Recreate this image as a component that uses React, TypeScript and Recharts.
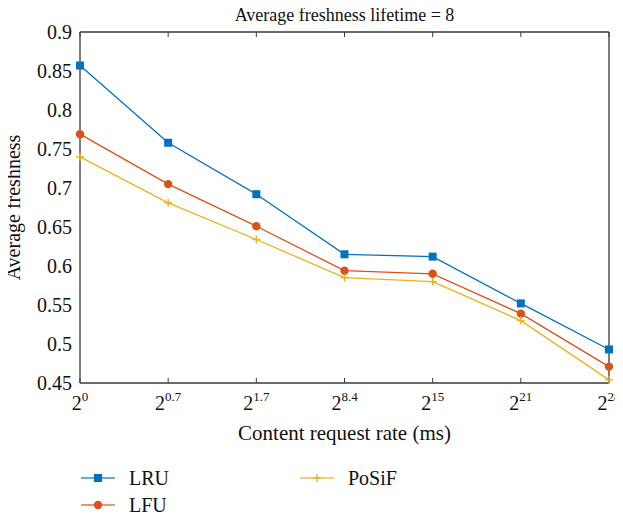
import { LineChart, Line, XAxis, YAxis } from 'recharts'

const exponents = ['0', '0.7', '1.7', '8.4', '15', '21', '28']
const lru = [0.857, 0.758, 0.692, 0.615, 0.612, 0.552, 0.493]
const lfu = [0.769, 0.705, 0.651, 0.594, 0.59, 0.539, 0.471]
const posif = [0.74, 0.681, 0.634, 0.585, 0.58, 0.53, 0.454]
const yTicks = [0.45, 0.5, 0.55, 0.6, 0.65, 0.7, 0.75, 0.8, 0.85, 0.9]
const xTicks = exponents.map((_, i) => i)

const series = [
  { key: 'LRU', color: '#0072BD', marker: 'square' },
  { key: 'LFU', color: '#D95319', marker: 'circle' },
  { key: 'PoSiF', color: '#EDB120', marker: 'plus' }
]

const data = exponents.map((e, i) => ({
  i,
  exp: e,
  LRU: lru[i],
  LFU: lfu[i],
  PoSiF: posif[i]
}))

const font = 'Liberation Serif'
const axisColor = '#3a3a3a'

const Marker = ({ type, cx, cy, color }: { type: string; cx: number; cy: number; color: string }) => {
  if (type === 'square')
    return <rect x={cx - 4} y={cy - 4} width={8} height={8} fill={color} />
  if (type === 'circle') return <circle cx={cx} cy={cy} r={4.2} fill={color} />
  return (
    <g stroke={color} strokeWidth={1.4}>
      <line x1={cx - 4} x2={cx + 4} y1={cy} y2={cy} />
      <line x1={cx} x2={cx} y1={cy - 4} y2={cy + 4} />
    </g>
  )
}

const XTick = ({ x, y, payload }: any) => (
  <text x={x} y={y + 19} textAnchor="middle" fontFamily={font} fontSize={20} fill="#111">
    <tspan>2</tspan>
    <tspan dy={-9} fontSize={13}>
      {exponents[payload.value]}
    </tspan>
  </text>
)

const legendPos = [
  { left: 73, top: 470 },
  { left: 73, top: 497 },
  { left: 292, top: 470 }
]

export default function App() {
  return (
    <div style={{ position: 'relative', width: 615, height: 507, fontFamily: font }}>
      <div
        style={{
          position: 'absolute',
          left: 72,
          width: 529,
          top: -2,
          textAlign: 'center',
          fontSize: 18,
          lineHeight: '18px',
          color: '#111'
        }}
      >
        Average freshness lifetime = 8
      </div>
      <LineChart width={615} height={507} data={data} margin={{ top: 24, right: 14, bottom: 72, left: 0 }}>
        <XAxis
          dataKey="i"
          type="number"
          domain={[0, 6]}
          ticks={xTicks}
          height={60}
          tickLine={false}
          axisLine={{ stroke: axisColor, strokeWidth: 1.3 }}
          tick={<XTick />}
          label={{
            value: 'Content request rate (ms)',
            position: 'insideBottom',
            offset: 3,
            fontFamily: font,
            fontSize: 21,
            fill: '#111'
          }}
        />
        <XAxis
          xAxisId="bm"
          dataKey="i"
          type="number"
          domain={[0, 6]}
          ticks={xTicks}
          mirror
          tickSize={5}
          tickFormatter={() => ''}
          axisLine={false}
          tickLine={{ stroke: axisColor }}
        />
        <XAxis
          xAxisId="top"
          orientation="top"
          dataKey="i"
          type="number"
          domain={[0, 6]}
          ticks={xTicks}
          mirror
          tickSize={5}
          tickFormatter={() => ''}
          axisLine={{ stroke: axisColor, strokeWidth: 1.3 }}
          tickLine={{ stroke: axisColor }}
        />
        <YAxis
          type="number"
          domain={[0.45, 0.9]}
          ticks={yTicks}
          width={72}
          tickLine={false}
          axisLine={{ stroke: axisColor, strokeWidth: 1.3 }}
          tick={{ fontFamily: font, fontSize: 20, fill: '#111' }}
          tickFormatter={(v: number) => String(+v.toFixed(2))}
          label={{
            value: 'Average freshness',
            angle: -90,
            position: 'insideLeft',
            offset: 5,
            fontFamily: font,
            fontSize: 20,
            fill: '#111',
            style: { textAnchor: 'middle' }
          }}
        />
        <YAxis
          yAxisId="lm"
          type="number"
          domain={[0.45, 0.9]}
          ticks={yTicks}
          mirror
          tickSize={5}
          tickFormatter={() => ''}
          axisLine={false}
          tickLine={{ stroke: axisColor }}
        />
        <YAxis
          yAxisId="right"
          orientation="right"
          type="number"
          domain={[0.45, 0.9]}
          ticks={yTicks}
          mirror
          tickSize={5}
          tickFormatter={() => ''}
          axisLine={{ stroke: axisColor, strokeWidth: 1.3 }}
          tickLine={{ stroke: axisColor }}
        />
        {series.map((s) => (
          <Line
            key={s.key}
            dataKey={s.key}
            stroke={s.color}
            strokeWidth={1.3}
            isAnimationActive={false}
            dot={(p: any) => <Marker key={p.index} type={s.marker} cx={p.cx} cy={p.cy} color={s.color} />}
            activeDot={false}
          />
        ))}
      </LineChart>
      {series.map((s, k) => (
        <div
          key={s.key}
          style={{
            position: 'absolute',
            left: legendPos[k].left,
            top: legendPos[k].top - 11,
            height: 22,
            display: 'flex',
            alignItems: 'center',
            fontSize: 20,
            lineHeight: '20px',
            color: '#111'
          }}
        >
          <svg width={48} height={22}>
            <line x1={0} x2={34} y1={11} y2={11} stroke={s.color} strokeWidth={1.5} opacity={0.8} />
            <Marker type={s.marker} cx={17} cy={11} color={s.color} />
          </svg>
          <span>{s.key}</span>
        </div>
      ))}
    </div>
  )
}
